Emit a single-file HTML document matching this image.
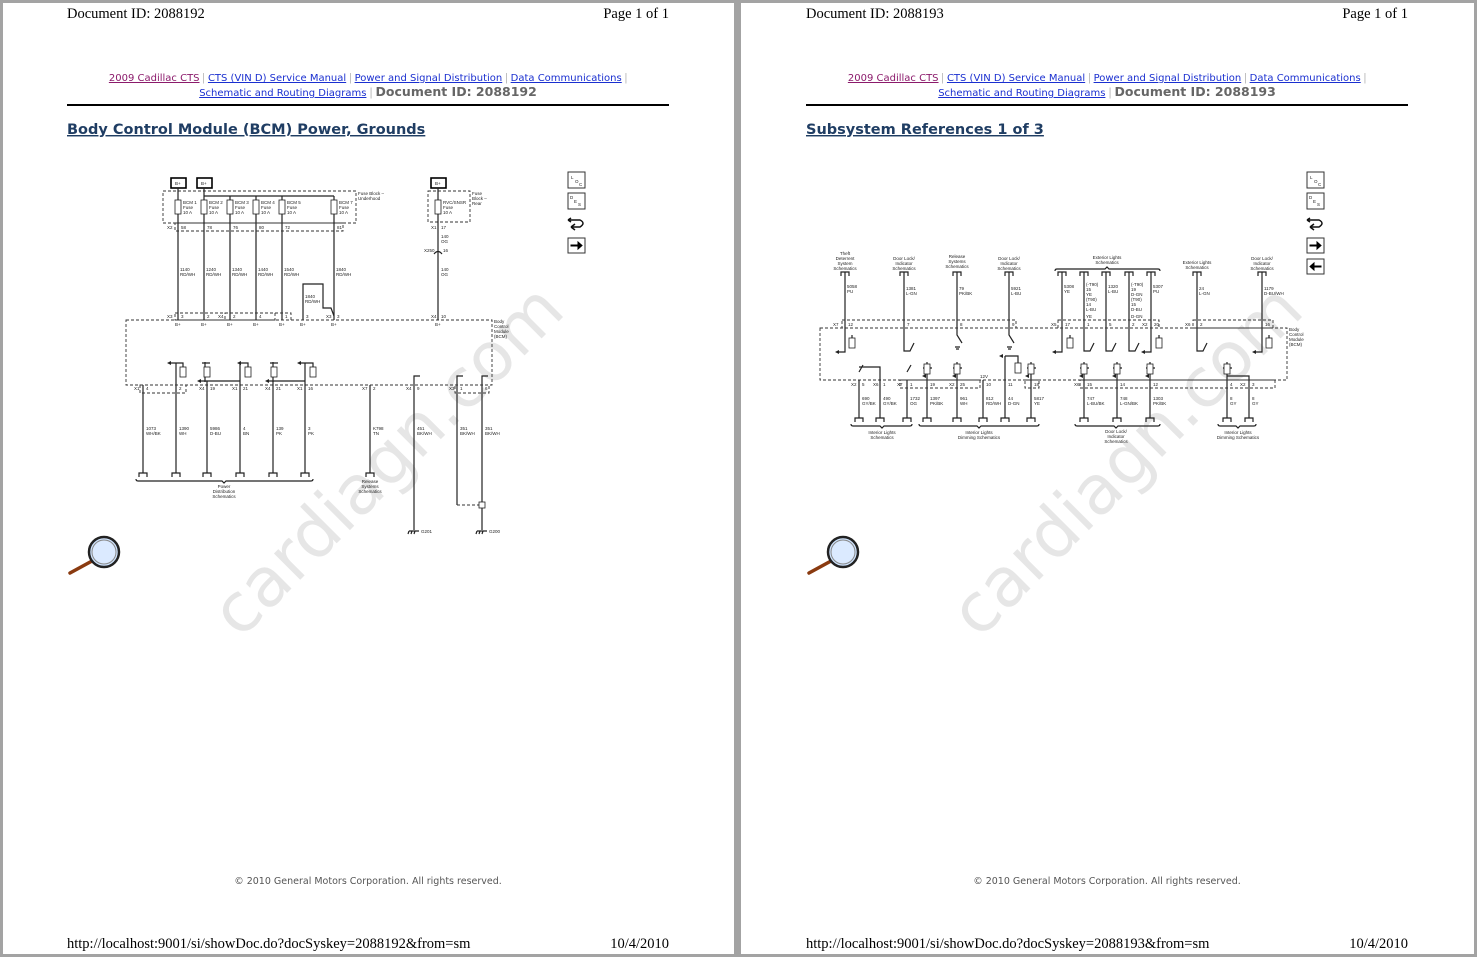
<!DOCTYPE html>
<html><head><meta charset="utf-8"><style>
html,body{margin:0;padding:0;background:#a3a3a3;}
svg{display:block}
.ser{font-family:"Liberation Serif",serif;font-size:14.5px;fill:#000}
.lk{font-family:"DejaVu Sans","Liberation Sans",sans-serif;font-size:10px;text-decoration:underline}
.did{font-family:"DejaVu Sans","Liberation Sans",sans-serif;font-size:12.5px;font-weight:bold;fill:#666}
.ttl{font-family:"DejaVu Sans","Liberation Sans",sans-serif;font-size:14.5px;font-weight:bold;fill:#1f3d63;text-decoration:underline}
.cp{font-family:"DejaVu Sans","Liberation Sans",sans-serif;font-size:9.5px;fill:#555}
.wm{font-family:"DejaVu Sans","Liberation Sans",sans-serif;font-size:68px;fill:#e6e6e6}
.t{font-family:"Liberation Sans",sans-serif;font-size:4.5px;fill:#222}
.w{stroke:#222;stroke-width:1.2;fill:none}
.d{stroke:#333;stroke-width:0.9;fill:none;stroke-dasharray:3,2}
.f{stroke:#222;stroke-width:0.8;fill:#fff}
</style></head><body>
<svg width="1477" height="957" viewBox="0 0 1477 957" xmlns="http://www.w3.org/2000/svg">
<rect x="0" y="0" width="1477" height="957" fill="#a3a3a3"/>
<rect x="3" y="3" width="731" height="951" fill="#fff"/>
<rect x="741" y="3" width="733" height="951" fill="#fff"/>

<!-- ===== PAGE 1 ===== -->
<text class="wm" transform="translate(240,640) rotate(-45)">cardiagn.com</text>
<text class="ser" x="67" y="18">Document ID: 2088192</text>
<text class="ser" x="669" y="18" text-anchor="end">Page 1 of 1</text>
<text x="368" y="81" text-anchor="middle"><tspan class="lk" fill="#8b1a6b">2009 Cadillac CTS</tspan><tspan fill="#999" font-size="12"> | </tspan><tspan class="lk" fill="#1a2fd0">CTS (VIN D) Service Manual</tspan><tspan fill="#999" font-size="12"> | </tspan><tspan class="lk" fill="#1a2fd0">Power and Signal Distribution</tspan><tspan fill="#999" font-size="12"> | </tspan><tspan class="lk" fill="#1a2fd0">Data Communications</tspan><tspan fill="#999" font-size="12"> |</tspan></text>
<text x="368" y="96" text-anchor="middle"><tspan class="lk" fill="#1a2fd0">Schematic and Routing Diagrams</tspan><tspan fill="#999" font-size="13"> | </tspan><tspan class="did">Document ID: 2088192</tspan></text>
<rect x="67" y="104" width="602" height="2" fill="#000"/>
<text class="ttl" x="67" y="134">Body Control Module (BCM) Power, Grounds</text>

<!-- diagram 1 -->
<g>
<rect x="171" y="178" width="15" height="10" fill="#fff" stroke="#000" stroke-width="1.6"/><text class="t" x="175" y="185">B+</text>
<rect x="197" y="178" width="15" height="10" fill="#fff" stroke="#000" stroke-width="1.6"/><text class="t" x="201" y="185">B+</text>
<rect x="431" y="178" width="15" height="10" fill="#fff" stroke="#000" stroke-width="1.6"/><text class="t" x="435" y="185">B+</text>
<rect class="d" x="163" y="191" width="193" height="32"/>
<text class="t" x="358" y="195">Fuse Block –</text><text class="t" x="358" y="200">Underhood</text>
<rect class="d" x="428" y="191" width="42" height="31"/>
<text class="t" x="472" y="195">Fuse</text><text class="t" x="472" y="200">Block –</text><text class="t" x="472" y="205">Rear</text>
<path class="w" d="M204 196H334"/>
<path class="w" d="M178 188V320M204 188V320M230 196V320M256 196V320M282 196V320M334 196V320M438 188V320"/>
<rect class="f" x="175" y="200" width="6" height="14"/><rect class="f" x="201" y="200" width="6" height="14"/><rect class="f" x="227" y="200" width="6" height="14"/><rect class="f" x="253" y="200" width="6" height="14"/><rect class="f" x="279" y="200" width="6" height="14"/><rect class="f" x="331" y="200" width="6" height="14"/><rect class="f" x="435" y="200" width="6" height="14"/>
<text class="t" x="183" y="204">BCM 1</text><text class="t" x="183" y="209">Fuse</text><text class="t" x="183" y="214">10 A</text>
<text class="t" x="209" y="204">BCM 2</text><text class="t" x="209" y="209">Fuse</text><text class="t" x="209" y="214">10 A</text>
<text class="t" x="235" y="204">BCM 3</text><text class="t" x="235" y="209">Fuse</text><text class="t" x="235" y="214">10 A</text>
<text class="t" x="261" y="204">BCM 4</text><text class="t" x="261" y="209">Fuse</text><text class="t" x="261" y="214">10 A</text>
<text class="t" x="287" y="204">BCM 5</text><text class="t" x="287" y="209">Fuse</text><text class="t" x="287" y="214">10 A</text>
<text class="t" x="339" y="204">BCM 7</text><text class="t" x="339" y="209">Fuse</text><text class="t" x="339" y="214">10 A</text>
<text class="t" x="443" y="204">RVC/SNSR</text><text class="t" x="443" y="209">Fuse</text><text class="t" x="443" y="214">10 A</text>
<rect class="d" x="175" y="223" width="168" height="8"/>
<text class="t" x="167" y="229">X2</text><text class="t" x="181" y="229">58</text><text class="t" x="207" y="229">78</text><text class="t" x="233" y="229">76</text><text class="t" x="259" y="229">80</text><text class="t" x="285" y="229">72</text><text class="t" x="337" y="229">81</text>
<text class="t" x="431" y="229">X1</text><text class="t" x="441" y="229">17</text>
<text class="t" x="441" y="238">140</text><text class="t" x="441" y="243">OG</text>
<path class="w" d="M434 254q4-5 8 0"/><text class="t" x="424" y="252">X250</text><text class="t" x="443" y="252">16</text>
<text class="t" x="441" y="271">140</text><text class="t" x="441" y="276">OG</text>
<text class="t" x="180" y="271">1140</text><text class="t" x="180" y="276">RD/WH</text>
<text class="t" x="206" y="271">1240</text><text class="t" x="206" y="276">RD/WH</text>
<text class="t" x="232" y="271">1340</text><text class="t" x="232" y="276">RD/WH</text>
<text class="t" x="258" y="271">1440</text><text class="t" x="258" y="276">RD/WH</text>
<text class="t" x="284" y="271">1540</text><text class="t" x="284" y="276">RD/WH</text>
<text class="t" x="336" y="271">1840</text><text class="t" x="336" y="276">RD/WH</text>
<path class="w" d="M303 320V284H323V308H331L334 316"/>
<text class="t" x="305" y="298">1840</text><text class="t" x="305" y="303">RD/WH</text>
<rect class="d" x="175" y="313" width="100" height="7"/><rect class="d" x="225" y="313" width="66" height="7"/>
<text class="t" x="167" y="318">X3</text><text class="t" x="181" y="318">3</text><text class="t" x="207" y="318">2</text><text class="t" x="218" y="318">X4</text><text class="t" x="233" y="318">2</text><text class="t" x="259" y="318">4</text><text class="t" x="285" y="318">1</text><text class="t" x="306" y="318">3</text><text class="t" x="326" y="318">X3</text><text class="t" x="337" y="318">3</text>
<text class="t" x="431" y="318">X4</text><text class="t" x="441" y="318">10</text>
<rect class="d" x="126" y="320" width="366" height="65"/>
<text class="t" x="175" y="326">B+</text><text class="t" x="201" y="326">B+</text><text class="t" x="227" y="326">B+</text><text class="t" x="253" y="326">B+</text><text class="t" x="279" y="326">B+</text><text class="t" x="300" y="326">B+</text><text class="t" x="331" y="326">B+</text><text class="t" x="435" y="326">B+</text>
<text class="t" x="494" y="323">Body</text><text class="t" x="494" y="328">Control</text><text class="t" x="494" y="333">Module</text><text class="t" x="494" y="338">(BCM)</text>
<!-- inner components -->
<path class="w" d="M170 363H183V371M205 362V382M202 363H210M240 363H248V371M200 381H240M273 362V382M270 363H278M300 363H313V371M268 381H305"/>
<rect class="f" x="180" y="367" width="6" height="10"/><rect class="f" x="204" y="367" width="6" height="10"/><rect class="f" x="245" y="367" width="6" height="10"/><rect class="f" x="271" y="367" width="6" height="10"/><rect class="f" x="310" y="367" width="6" height="10"/>
<path d="M167 363l4-2v4z M197 381l4-2v4z M237 363l4-2v4z M265 381l4-2v4z M297 363l4-2v4z" fill="#222"/>
<path class="w" d="M143 385V473M176 363V473M207 381V473M240 363V473M273 381V473M305 363V473M370 385V473"/>
<path class="w" d="M414 530V376H420M482 505V376H488M457 505V376H463"/>
<path class="d" d="M457 505H482"/>
<rect class="d" x="140" y="385" width="46" height="8"/><rect class="d" x="455" y="385" width="34" height="8"/>
<text class="t" x="134" y="390">X1</text><text class="t" x="146" y="390">4</text><text class="t" x="179" y="390">2</text><text class="t" x="199" y="390">X4</text><text class="t" x="210" y="390">19</text><text class="t" x="232" y="390">X1</text><text class="t" x="243" y="390">21</text><text class="t" x="265" y="390">X4</text><text class="t" x="276" y="390">21</text><text class="t" x="297" y="390">X1</text><text class="t" x="308" y="390">16</text><text class="t" x="362" y="390">X7</text><text class="t" x="373" y="390">2</text><text class="t" x="406" y="390">X4</text><text class="t" x="417" y="390">9</text><text class="t" x="449" y="390">X3</text><text class="t" x="460" y="390">1</text><text class="t" x="485" y="390">6</text>
<text class="t" x="146" y="430">1073</text><text class="t" x="146" y="435">WH/BK</text>
<text class="t" x="179" y="430">1390</text><text class="t" x="179" y="435">WH</text>
<text class="t" x="210" y="430">5986</text><text class="t" x="210" y="435">D-BU</text>
<text class="t" x="243" y="430">4</text><text class="t" x="243" y="435">BN</text>
<text class="t" x="276" y="430">139</text><text class="t" x="276" y="435">PK</text>
<text class="t" x="308" y="430">3</text><text class="t" x="308" y="435">PK</text>
<text class="t" x="373" y="430">K798</text><text class="t" x="373" y="435">TN</text>
<text class="t" x="417" y="430">451</text><text class="t" x="417" y="435">BK/WH</text>
<text class="t" x="460" y="430">351</text><text class="t" x="460" y="435">BK/WH</text>
<text class="t" x="485" y="430">351</text><text class="t" x="485" y="435">BK/WH</text>
<path class="w" d="M139 477V473H147V477M172 477V473H180V477M203 477V473H211V477M236 477V473H244V477M269 477V473H277V477M301 477V473H309V477M366 477V473H374V477" stroke-width="0.9"/>
<path class="w" d="M136 479q0 2 2 2H222l2 2 2-2H311q2 0 2-2" stroke-width="0.6"/>
<text class="t" x="224" y="488" text-anchor="middle">Power</text><text class="t" x="224" y="493" text-anchor="middle">Distribution</text><text class="t" x="224" y="498" text-anchor="middle">Schematics</text>
<text class="t" x="370" y="483" text-anchor="middle">Release</text><text class="t" x="370" y="488" text-anchor="middle">Systems</text><text class="t" x="370" y="493" text-anchor="middle">Schematics</text>
<rect class="f" x="479" y="502" width="6" height="6"/>
<path class="w" d="M482 508V530M409 531H419M409 531l-1 3M412 531l-1 3M415 531l-1 3M477 531H487M477 531l-1 3M480 531l-1 3M483 531l-1 3"/>
<text class="t" x="421" y="533">G201</text><text class="t" x="489" y="533">G200</text>
</g>

<!-- icons page 1 -->
<g id="icons1">
<rect x="568" y="172" width="17" height="16" fill="#fff" stroke="#333"/><text class="t" x="571" y="179">L</text><text class="t" x="575" y="183">O</text><text class="t" x="579" y="186">C</text>
<rect x="568" y="193" width="17" height="16" fill="#fff" stroke="#333"/><text class="t" x="570" y="199">D</text><text class="t" x="574" y="203">E</text><text class="t" x="578" y="206">S</text>
<path d="M568 220H580q6 3 0 7H571M571 227l4-3M571 227l4 3M568 220l3-2M568 220l3 2" stroke="#111" stroke-width="1.5" fill="none"/>
<rect x="568" y="238" width="17" height="15" fill="#fff" stroke="#333"/><path d="M571 245H578V242L582 245.5L578 249V246H571z" fill="#000" stroke="#000"/>
</g>

<!-- magnifier -->
<g>
<line x1="70" y1="573" x2="92" y2="561" stroke="#8a3a10" stroke-width="3.5" stroke-linecap="round"/>
<circle cx="104" cy="552" r="15" fill="#cfe4ff" stroke="#222" stroke-width="2.5"/>
<circle cx="104" cy="552" r="12" fill="#dbeaff" stroke="#888" stroke-width="1"/>
</g>
<text class="cp" x="368" y="884" text-anchor="middle">© 2010 General Motors Corporation.  All rights reserved.</text>
<text class="ser" x="67" y="948">http://localhost:9001/si/showDoc.do?docSyskey=2088192&amp;from=sm</text>
<text class="ser" x="669" y="948" text-anchor="end">10/4/2010</text>

<!-- ===== PAGE 2 ===== -->
<text class="wm" transform="translate(979,640) rotate(-45)">cardiagn.com</text>
<text class="ser" x="806" y="18">Document ID: 2088193</text>
<text class="ser" x="1408" y="18" text-anchor="end">Page 1 of 1</text>
<text x="1107" y="81" text-anchor="middle"><tspan class="lk" fill="#8b1a6b">2009 Cadillac CTS</tspan><tspan fill="#999" font-size="12"> | </tspan><tspan class="lk" fill="#1a2fd0">CTS (VIN D) Service Manual</tspan><tspan fill="#999" font-size="12"> | </tspan><tspan class="lk" fill="#1a2fd0">Power and Signal Distribution</tspan><tspan fill="#999" font-size="12"> | </tspan><tspan class="lk" fill="#1a2fd0">Data Communications</tspan><tspan fill="#999" font-size="12"> |</tspan></text>
<text x="1107" y="96" text-anchor="middle"><tspan class="lk" fill="#1a2fd0">Schematic and Routing Diagrams</tspan><tspan fill="#999" font-size="13"> | </tspan><tspan class="did">Document ID: 2088193</tspan></text>
<rect x="806" y="104" width="602" height="2" fill="#000"/>
<text class="ttl" x="806" y="134">Subsystem References 1 of 3</text>

<g>
<!-- top labels -->
<text class="t" x="845" y="255" text-anchor="middle">Theft</text><text class="t" x="845" y="260" text-anchor="middle">Deterrent</text><text class="t" x="845" y="265" text-anchor="middle">System</text><text class="t" x="845" y="270" text-anchor="middle">Schematics</text>
<text class="t" x="904" y="260" text-anchor="middle">Door Lock/</text><text class="t" x="904" y="265" text-anchor="middle">Indicator</text><text class="t" x="904" y="270" text-anchor="middle">Schematics</text>
<text class="t" x="957" y="258" text-anchor="middle">Release</text><text class="t" x="957" y="263" text-anchor="middle">Systems</text><text class="t" x="957" y="268" text-anchor="middle">Schematics</text>
<text class="t" x="1009" y="260" text-anchor="middle">Door Lock/</text><text class="t" x="1009" y="265" text-anchor="middle">Indicator</text><text class="t" x="1009" y="270" text-anchor="middle">Schematics</text>
<text class="t" x="1107" y="259" text-anchor="middle">Exterior Lights</text><text class="t" x="1107" y="264" text-anchor="middle">Schematics</text>
<path class="w" d="M1055 271q0-2 2-2H1105l2-2 2 2H1158q2 0 2 2" stroke-width="0.6"/>
<text class="t" x="1197" y="264" text-anchor="middle">Exterior Lights</text><text class="t" x="1197" y="269" text-anchor="middle">Schematics</text>
<text class="t" x="1262" y="260" text-anchor="middle">Door Lock/</text><text class="t" x="1262" y="265" text-anchor="middle">Indicator</text><text class="t" x="1262" y="270" text-anchor="middle">Schematics</text>
<path class="w" stroke-width="0.9" d="M841 276V272H849V276M900 276V272H908V276M953 276V272H961V276M1005 276V272H1013V276M1058 276V272H1066V276M1080 276V272H1088V276M1102 276V272H1110V276M1125 276V272H1133V276M1147 276V272H1155V276M1193 276V272H1201V276M1258 276V272H1266V276"/>
<!-- top wires -->
<path class="w" d="M845 272V352H838M904 272V351H910L914 343M957 272V335L962 343M1009 272V335L1014 343M1062 272V352H1055M1084 272V351H1090L1094 343M1106 272V351H1112L1116 343M1129 272V351H1135L1139 343M1151 272V352H1144M1197 272V351H1203L1207 343M1262 272V352H1255"/>
<path d="M835 352l4-2v4zM1052 352l4-2v4zM1141 352l4-2v4zM1252 352l4-2v4z" fill="#222"/>
<rect class="f" x="849" y="338" width="6" height="10"/><rect class="f" x="1067" y="338" width="6" height="10"/><rect class="f" x="1156" y="338" width="6" height="10"/><rect class="f" x="1266" y="338" width="6" height="10"/>
<path class="w" d="M852 338V335M1070 338V335M1159 338V335M1269 338V335M955 347H960M1007 347H1012M956 349H959M1008 349H1011"/>
<text class="t" x="847" y="288">5058</text><text class="t" x="847" y="293">PU</text>
<text class="t" x="906" y="290">1381</text><text class="t" x="906" y="295">L-GN</text>
<text class="t" x="959" y="290">79</text><text class="t" x="959" y="295">PK/BK</text>
<text class="t" x="1011" y="290">5921</text><text class="t" x="1011" y="295">L-BU</text>
<text class="t" x="1064" y="288">5308</text><text class="t" x="1064" y="293">YE</text>
<text class="t" x="1086" y="286">(-T90)</text><text class="t" x="1086" y="291">15</text><text class="t" x="1086" y="296">YE</text><text class="t" x="1086" y="301">(T90)</text><text class="t" x="1086" y="306">14</text><text class="t" x="1086" y="311">L-BU</text><text class="t" x="1086" y="318">YE</text>
<text class="t" x="1108" y="288">1320</text><text class="t" x="1108" y="293">L-BU</text>
<text class="t" x="1131" y="286">(-T90)</text><text class="t" x="1131" y="291">19</text><text class="t" x="1131" y="296">D-GN</text><text class="t" x="1131" y="301">(T90)</text><text class="t" x="1131" y="306">15</text><text class="t" x="1131" y="311">D-BU</text><text class="t" x="1131" y="318">D-GN</text>
<text class="t" x="1153" y="288">5307</text><text class="t" x="1153" y="293">PU</text>
<text class="t" x="1199" y="290">24</text><text class="t" x="1199" y="295">L-GN</text>
<text class="t" x="1264" y="290">1179</text><text class="t" x="1264" y="295">D-BU/WH</text>
<!-- connector rows -->
<rect class="d" x="842" y="320" width="174" height="8"/><rect class="d" x="1058" y="320" width="101" height="8"/><rect class="d" x="1193" y="320" width="80" height="8"/>
<text class="t" x="833" y="326">X7</text><text class="t" x="848" y="326">12</text><text class="t" x="907" y="326">7</text><text class="t" x="960" y="326">8</text><text class="t" x="1012" y="326">9</text><text class="t" x="1051" y="326">X5</text><text class="t" x="1065" y="326">17</text><text class="t" x="1087" y="326">1</text><text class="t" x="1109" y="326">5</text><text class="t" x="1132" y="326">2</text><text class="t" x="1142" y="326">X2</text><text class="t" x="1154" y="326">20</text><text class="t" x="1185" y="326">X6</text><text class="t" x="1200" y="326">2</text><text class="t" x="1265" y="326">16</text>
<rect class="d" x="820" y="328" width="467" height="52"/>
<text class="t" x="1289" y="331">Body</text><text class="t" x="1289" y="336">Control</text><text class="t" x="1289" y="341">Module</text><text class="t" x="1289" y="346">(BCM)</text>
<!-- lower components -->
<path class="w" d="M859 367H880V418M859 380V418M859 372L863 365M907 380V418M907 372L911 365M927 362V418M923 368H932M957 362V418M953 368H962M983 380V418M1005 356V418M1005 356H1018V364M1031 362V418M1027 368H1036M1084 362V418M1080 368H1089M1117 362V418M1113 368H1122M1150 362V418M1146 368H1155M1227 362V418M1223 368H1232M1227 376H1249V418"/>
<rect class="f" x="924" y="364" width="6" height="10"/><rect class="f" x="954" y="364" width="6" height="10"/><rect class="f" x="1015" y="363" width="6" height="10"/><rect class="f" x="1028" y="364" width="6" height="10"/><rect class="f" x="1081" y="364" width="6" height="10"/><rect class="f" x="1114" y="364" width="6" height="10"/><rect class="f" x="1147" y="364" width="6" height="10"/><rect class="f" x="1224" y="364" width="6" height="10"/>
<path d="M999 356l4-2v4zM922 376l4-2v4zM952 376l4-2v4zM1025 376l4-2v4zM1079 376l4-2v4zM1112 376l4-2v4zM1145 376l4-2v4z" fill="#222"/>
<rect class="d" x="900" y="380" width="80" height="8"/><rect class="d" x="1025" y="380" width="14" height="8"/><rect class="d" x="1080" y="380" width="195" height="8"/>
<text class="t" x="851" y="386">X2</text><text class="t" x="862" y="386">5</text><text class="t" x="873" y="386">X6</text><text class="t" x="883" y="386">1</text><text class="t" x="897" y="386">X7</text><text class="t" x="910" y="386">1</text><text class="t" x="930" y="386">19</text><text class="t" x="949" y="386">X2</text><text class="t" x="960" y="386">25</text><text class="t" x="986" y="386">10</text><text class="t" x="1008" y="386">11</text><text class="t" x="1034" y="386">18</text><text class="t" x="1074" y="386">X6</text><text class="t" x="1087" y="386">15</text><text class="t" x="1120" y="386">14</text><text class="t" x="1153" y="386">12</text><text class="t" x="1230" y="386">4</text><text class="t" x="1240" y="386">X2</text><text class="t" x="1252" y="386">3</text>
<text class="t" x="980" y="378">12V</text>
<text class="t" x="862" y="400">690</text><text class="t" x="862" y="405">GY/BK</text>
<text class="t" x="883" y="400">490</text><text class="t" x="883" y="405">GY/BK</text>
<text class="t" x="910" y="400">1732</text><text class="t" x="910" y="405">OG</text>
<text class="t" x="930" y="400">1397</text><text class="t" x="930" y="405">PK/BK</text>
<text class="t" x="960" y="400">961</text><text class="t" x="960" y="405">WH</text>
<text class="t" x="986" y="400">812</text><text class="t" x="986" y="405">RD/WH</text>
<text class="t" x="1008" y="400">44</text><text class="t" x="1008" y="405">D-GN</text>
<text class="t" x="1034" y="400">5817</text><text class="t" x="1034" y="405">YE</text>
<text class="t" x="1087" y="400">747</text><text class="t" x="1087" y="405">L-BU/BK</text>
<text class="t" x="1120" y="400">748</text><text class="t" x="1120" y="405">L-GN/BK</text>
<text class="t" x="1153" y="400">1303</text><text class="t" x="1153" y="405">PK/BK</text>
<text class="t" x="1230" y="400">8</text><text class="t" x="1230" y="405">GY</text>
<text class="t" x="1252" y="400">8</text><text class="t" x="1252" y="405">GY</text>
<path class="w" stroke-width="0.9" d="M855 422V418H863V422M876 422V418H884V422M903 422V418H911V422M923 422V418H931V422M953 422V418H961V422M979 422V418H987V422M1001 422V418H1009V422M1027 422V418H1035V422M1080 422V418H1088V422M1113 422V418H1121V422M1146 422V418H1154V422M1223 422V418H1231V422M1245 422V418H1253V422"/>
<path class="w" stroke-width="0.6" d="M851 424q0 2 2 2H880l2 2 2-2H910q2 0 2-2M919 424q0 2 2 2H977l2 2 2-2H1037q2 0 2-2M1075 424q0 2 2 2H1114l2 2 2-2H1158q2 0 2-2M1218 424q0 2 2 2H1236l2 2 2-2H1254q2 0 2-2"/>
<text class="t" x="882" y="434" text-anchor="middle">Interior Lights</text><text class="t" x="882" y="439" text-anchor="middle">Schematics</text>
<text class="t" x="979" y="434" text-anchor="middle">Interior Lights</text><text class="t" x="979" y="439" text-anchor="middle">Dimming Schematics</text>
<text class="t" x="1116" y="433" text-anchor="middle">Door Lock/</text><text class="t" x="1116" y="438" text-anchor="middle">Indicator</text><text class="t" x="1116" y="443" text-anchor="middle">Schematics</text>
<text class="t" x="1238" y="434" text-anchor="middle">Interior Lights</text><text class="t" x="1238" y="439" text-anchor="middle">Dimming Schematics</text>
</g>

<!-- icons page 2 -->
<g transform="translate(739,0)">
<rect x="568" y="172" width="17" height="16" fill="#fff" stroke="#333"/><text class="t" x="571" y="179">L</text><text class="t" x="575" y="183">O</text><text class="t" x="579" y="186">C</text>
<rect x="568" y="193" width="17" height="16" fill="#fff" stroke="#333"/><text class="t" x="570" y="199">D</text><text class="t" x="574" y="203">E</text><text class="t" x="578" y="206">S</text>
<path d="M568 220H580q6 3 0 7H571M571 227l4-3M571 227l4 3M568 220l3-2M568 220l3 2" stroke="#111" stroke-width="1.5" fill="none"/>
<rect x="568" y="238" width="17" height="15" fill="#fff" stroke="#333"/><path d="M571 245H578V242L582 245.5L578 249V246H571z" fill="#000" stroke="#000"/>
<rect x="568" y="259" width="17" height="15" fill="#fff" stroke="#333"/><path d="M582 266H575V263L571 266.5L575 270V267H582z" fill="#000" stroke="#000"/>
</g>
<g transform="translate(739,0)">
<line x1="70" y1="573" x2="92" y2="561" stroke="#8a3a10" stroke-width="3.5" stroke-linecap="round"/>
<circle cx="104" cy="552" r="15" fill="#cfe4ff" stroke="#222" stroke-width="2.5"/>
<circle cx="104" cy="552" r="12" fill="#dbeaff" stroke="#888" stroke-width="1"/>
</g>
<text class="cp" x="1107" y="884" text-anchor="middle">© 2010 General Motors Corporation.  All rights reserved.</text>
<text class="ser" x="806" y="948">http://localhost:9001/si/showDoc.do?docSyskey=2088193&amp;from=sm</text>
<text class="ser" x="1408" y="948" text-anchor="end">10/4/2010</text>
</svg>
</body></html>
